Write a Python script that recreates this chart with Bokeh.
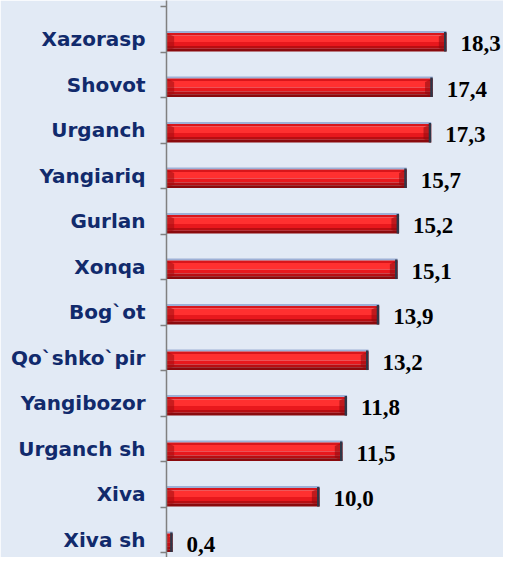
import numpy as np
from bokeh.plotting import figure
from bokeh.models import Range1d, FixedTicker
from bokeh.core.properties import value
from bokeh.embed import file_html
from bokeh.resources import INLINE

# ---- data ----
categories = ["Xazorasp", "Shovot", "Urganch", "Yangiariq", "Gurlan", "Xonqa",
              "Bog`ot", "Qo`shko`pir", "Yangibozor", "Urganch sh", "Xiva", "Xiva sh"]
values = [18.3, 17.4, 17.3, 15.7, 15.2, 15.1, 13.9, 13.2, 11.8, 11.5, 10.0, 0.4]
value_labels = ["18,3", "17,4", "17,3", "15,7", "15,2", "15,1",
                "13,9", "13,2", "11,8", "11,5", "10,0", "0,4"]

n = len(categories)
idx = np.arange(n)
vals = np.array(values)

BG = "#e2eaf5"
W, H = 503, 557
LEFT = 166          # axis position in px
ROW = 45.5          # row height in px
TOP = 6             # first row boundary in px
XSCALE = 15.3       # px per unit

p = figure(width=W, height=H, output_backend="svg", toolbar_location=None,
           x_range=Range1d(0, (W - LEFT) / XSCALE),
           y_range=Range1d((H - TOP) / ROW, -TOP / ROW),
           x_axis_location=None,
           min_border_left=LEFT, min_border_right=0,
           min_border_top=0, min_border_bottom=0)
p.background_fill_color = BG
p.border_fill_color = BG
p.outline_line_color = None
p.grid.visible = False

# ---- 3D-looking bars (stacked horizontal bands) ----
face = (0.54, 0.58, "#9db0d6")
bands = [(0.58, 0.64, "#d8161b"), (0.64, 0.78, "#ff3030"), (0.78, 0.87, "#e8181d"),
         (0.87, 0.93, "#b80e12"), (0.93, 0.99, "#8a0a0d")]
p.quad(left=0, right=vals, top=idx + face[0], bottom=idx + face[1],
       color=face[2], line_color=None)
for t0, t1, c in bands:
    p.quad(left=0, right=vals, top=idx + t0, bottom=idx + t1, color=c, line_color=None)

bw = np.minimum(0.5, vals / 2)
left_xs = [[0, w, w, 0] for w in bw]
left_ys = [[i + 0.58, i + 0.66, i + 0.91, i + 0.99] for i in idx]
p.patches(left_xs, left_ys, color="#a00c11", alpha=0.55, line_color=None)
right_xs = [[v - w, v, v, v - w] for v, w in zip(vals, bw)]
right_ys = [[i + 0.66, i + 0.58, i + 0.99, i + 0.91] for i in idx]
p.patches(right_xs, right_ys, color="#8c0a0e", alpha=0.55, line_color=None)

p.quad(left=vals - 0.16, right=vals, top=idx + 0.56, bottom=idx + 0.99,
       color="#2d3748", line_color=None)

# ---- value labels ----
p.text(x=vals, y=idx + 0.82, text=value_labels, x_offset=14,
       text_baseline="middle", text_align="left",
       text_font=value("Liberation Serif"), text_font_style="bold",
       text_font_size="23px", text_color="black")

# ---- category axis ----
ax = p.yaxis[0]
label_pos = [float(i) + 0.72 for i in idx]
ax.ticker = FixedTicker(ticks=label_pos, minor_ticks=list(range(n + 1)))
ax.major_label_overrides = {pos: c for pos, c in zip(label_pos, categories)}
ax.major_tick_line_color = None
ax.major_tick_out = 0
ax.major_tick_in = 0
ax.minor_tick_out = 6
ax.minor_tick_in = 0
ax.minor_tick_line_color = "#808080"
ax.minor_tick_line_width = 1.5
ax.axis_line_color = "#808080"
ax.axis_line_width = 1.5
ax.major_label_standoff = 15
ax.major_label_text_font = "DejaVu Sans"
ax.major_label_text_font_style = "bold"
ax.major_label_text_font_size = "20px"
ax.major_label_text_color = "#112a6c"

open("out.html", "w").write(file_html(p, INLINE))
